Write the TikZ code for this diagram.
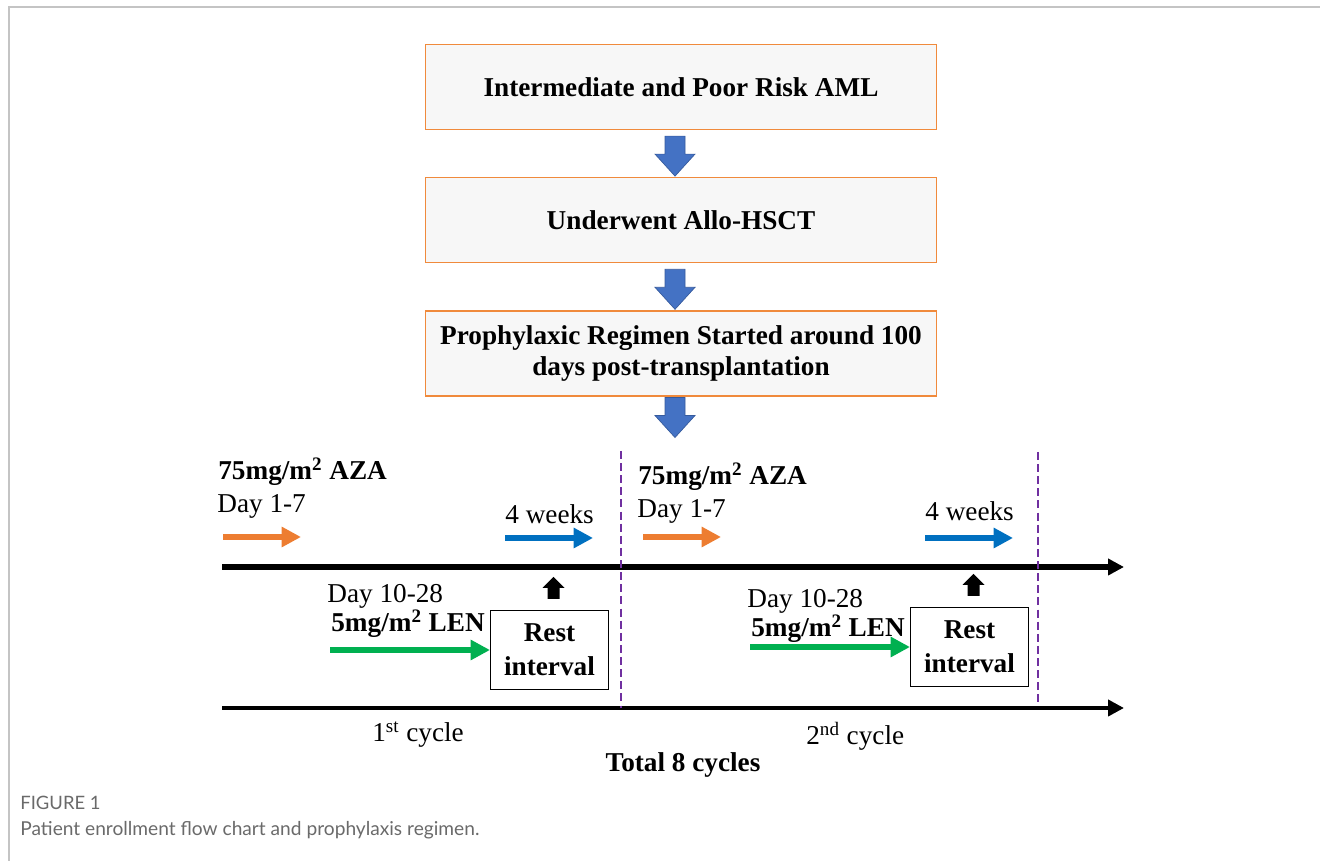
\documentclass[tikz,border=0pt]{standalone}
\usepackage{fontspec}
\setmainfont{Liberation Serif}
\newfontfamily\capfont{Lato}
\usetikzlibrary{arrows.meta,positioning,calc}
\definecolor{cBoxLine}{HTML}{F08A3C}
\definecolor{cBoxFill}{HTML}{F7F7F7}
\definecolor{cBlock}{HTML}{4472C4}
\definecolor{cAza}{HTML}{ED7D31}
\definecolor{cWeek}{HTML}{0070C0}
\definecolor{cLen}{HTML}{00B050}
\definecolor{cCycle}{HTML}{7030A0}
\definecolor{cFrame}{HTML}{C4C4C4}
\definecolor{cCap}{HTML}{6A6A6A}

\begin{document}
\begin{tikzpicture}[
    x=0.02cm, y=-0.02cm,
    node distance=0.94cm,
    flow/.style={rectangle, draw=cBoxLine, line width=0.7pt, fill=cBoxFill, minimum width=10.22cm, minimum height=1.7cm, font=\fontsize{15.5}{18}\selectfont\bfseries, align=center},
    lbl/.style={inner sep=0pt, anchor=base west, font=\fontsize{15.5}{18}\selectfont},
    lblb/.style={lbl, font=\fontsize{15.5}{18}\selectfont\bfseries},
    rest/.style={rectangle, draw, line width=0.6pt, fill=white, minimum width=2.36cm, minimum height=1.58cm, inner sep=0pt, align=center, font=\fontsize{15.5}{19.5}\selectfont\bfseries},
    dose/.style={-{Triangle[length=11pt,width=11pt]}, line width=3.4pt},
    axis/.style={-{Triangle[length=9pt,width=9pt]}},
    cyc/.style={cCycle, line width=1.5pt, dash pattern=on 4.5pt off 2.4pt},
    downblk/.pic={\filldraw[fill=cBlock, draw=cBlock!80!black, line width=0.4pt] (-10,0) -- (10,0) -- (10,18) -- (20,18) -- (0,40) -- (-20,18) -- (-10,18) -- cycle;},
    upblk/.pic={\fill (-6,0) -- (6,0) -- (6,-11) -- (11,-11) -- (0,-22) -- (-11,-11) -- (-6,-11) -- cycle;}
]
\useasboundingbox (0,0) rectangle (1320,861);
\draw[cFrame, line width=0.6pt] (9,861) -- (9,7) -- (1320,7);

% enrollment flow
\node[flow] (b1) at (681,87) {Intermediate and Poor Risk AML};
\node[flow, below=of b1] (b2) {Underwent Allo-HSCT};
\node[flow, below=of b2] (b3) {Prophylaxic Regimen Started around 100\\days post-transplantation};

\pic at ($(b1.south)+(-6,6)$) {downblk};
\pic at ($(b2.south)+(-6,6)$) {downblk};
\pic at ($(b3.south)+(-6,1)$) {downblk};

% timelines
\coordinate (ax1s) at (222,567);
\coordinate (ax1e) at (1124,567);
\coordinate (ax2s) at (222,708);
\coordinate (ax2e) at (1124,708);
\draw[axis, line width=3.2pt] (ax1s) -- (ax1e);
\draw[axis, line width=2.5pt] (ax2s) -- (ax2e);

\foreach \c/\dx/\dt/\dw in {1/0/0/0, 2/420/5/-3} {
  \node[lblb] (aza\c) at (218+\dx,480+\dt) {75mg/m\textsuperscript{2} AZA};
  \node[lbl] (day\c) at (217+\dx,513+\dt) {Day 1-7};
  \coordinate (os\c) at (223+\dx,537);
  \coordinate (oe\c) at (301+\dx,537);
  \draw[dose, cAza] (os\c) -- (oe\c);
  \node[lbl] (wk\c) at (505+\dx,524+\dw) {4 weeks};
  \coordinate (ws\c) at (505+\dx,538);
  \coordinate (we\c) at (593+\dx,538);
  \draw[dose, cWeek] (ws\c) -- (we\c);
  \node[lbl] (dlen\c) at (327+\dx,603+\dt) {Day 10-28};
  \node[lblb] (len\c) at (331+\dx,632+\dt) {5mg/m\textsuperscript{2} LEN};
  \node[rest] (rest\c) at (549.5+\dx,650+\dw) {Rest\\interval};
  \coordinate (gs\c) at (330+\dx,650+\dw);
  \draw[dose, cLen] (gs\c) -- (rest\c.west);
  \pic at ($(rest\c.north)+(4,-11)$) {upblk};
}

% cycle borders
\coordinate (d1t) at (621,451);
\coordinate (d1b) at (621,708);
\coordinate (d2t) at (1038,452);
\coordinate (d2b) at (1038,706);
\draw[cyc] (d1t) -- (d1b);
\draw[cyc] (d2t) -- (d2b);

\node[lbl] (cy1) at (372,742) {1\textsuperscript{st} cycle};
\node[lbl] (cy2) at (806,745) {2\textsuperscript{nd} cycle};
\node[lblb, anchor=base] (tot) at (683,772) {Total 8 cycles};

% caption
\node[inner sep=0pt, anchor=base west, text=cCap, font=\capfont\fontsize{10.5}{12}\selectfont] (fig) at (20,809) {FIGURE 1};
\node[inner sep=0pt, anchor=base west, text=cCap, font=\capfont\fontsize{10.9}{13}\selectfont] (cap) at (20,835) {Patient enrollment flow chart and prophylaxis regimen.};
\end{tikzpicture}
\end{document}
